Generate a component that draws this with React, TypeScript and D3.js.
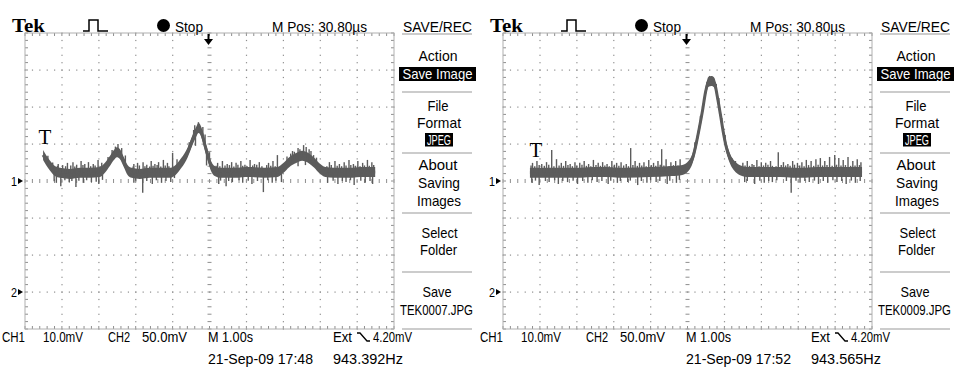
import React, { useEffect, useRef } from 'react';
import * as d3 from 'd3';

type Pt = [number, number];

// CH1 trace: [time in s from left graticule edge, mV above CH1 ground]
// M 1.00s/div, CH1 10.0mV/div
const trace07: Pt[] = [
  [0.49, 7.0], [0.57, 5.7], [0.68, 4.1], [0.81, 2.7], [0.95, 2.2], [1.22, 1.9], [1.49, 2.2],
  [1.76, 2.2], [2.03, 2.4], [2.16, 3.5], [2.3, 5.4], [2.41, 7.0], [2.49, 7.8], [2.57, 7.3],
  [2.68, 5.1], [2.78, 3.0], [2.89, 2.2], [3.11, 1.9], [3.38, 2.2], [3.65, 2.2], [3.92, 2.2],
  [4.08, 3.0], [4.24, 4.9], [4.41, 7.8], [4.54, 11.1], [4.65, 13.5], [4.7, 14.3], [4.78, 13.2],
  [4.86, 10.3], [4.95, 7.0], [5.03, 4.3], [5.14, 2.7], [5.32, 2.2], [5.68, 2.2], [6.08, 2.4],
  [6.49, 2.2], [6.84, 2.4], [7.0, 3.5], [7.16, 5.1], [7.35, 6.2], [7.51, 6.8], [7.68, 6.2],
  [7.84, 4.9], [7.97, 3.5], [8.14, 2.4], [8.38, 2.2], [8.78, 2.2], [9.19, 2.4], [9.49, 2.4],
];

// noise spikes: [time s, tip mV]
const spikesUp07: Pt[] = [
  [0.62, 6.8], [0.75, 5.0], [0.9, 4.6], [1.02, 4.3], [1.15, 4.9], [1.3, 5.1], [1.4, 4.4],
  [1.52, 5.4], [1.62, 4.6], [1.72, 5.1], [1.85, 4.6], [1.98, 5.7], [2.08, 4.9], [2.25, 6.5],
  [2.36, 8.4], [2.45, 9.3], [2.52, 10.0], [2.62, 8.9], [2.72, 6.9], [2.95, 4.6], [3.05, 4.9],
  [3.2, 5.1], [3.3, 4.4], [3.42, 5.4], [3.52, 4.6], [3.62, 5.1], [3.75, 5.7], [3.86, 4.9],
  [4.0, 7.6], [4.12, 5.9], [4.45, 10.5], [4.57, 13.8], [4.6, 15.1], [4.7, 15.9], [4.82, 14.6],
  [4.88, 12.6], [5.0, 7.8], [5.22, 4.9], [5.35, 5.4], [5.48, 4.6], [5.6, 5.1], [5.72, 4.9],
  [5.85, 5.4], [5.96, 4.4], [6.1, 5.7], [6.22, 4.6], [6.35, 5.1], [6.6, 4.9], [6.72, 5.4],
  [6.84, 7.0], [7.1, 6.6], [7.2, 7.4], [7.25, 8.1], [7.3, 7.9], [7.4, 8.9], [7.45, 8.6],
  [7.55, 9.7], [7.62, 9.2], [7.7, 8.6], [7.75, 8.1], [7.82, 7.0], [7.9, 6.3], [8.25, 5.1],
  [8.4, 5.4], [8.52, 4.6], [8.65, 5.1], [8.78, 5.7], [8.9, 4.6], [9.02, 5.4], [9.15, 4.9],
  [9.28, 5.7], [9.4, 5.1],
];
const spikesDown07: Pt[] = [
  [0.85, -0.5], [0.97, -1.4], [1.2, -0.3], [1.38, -1.6], [1.58, -0.5], [1.8, -0.3], [2.0, -0.8],
  [2.95, -0.5], [3.19, -3.2], [3.45, -0.8], [3.7, -0.5], [3.95, -0.3], [4.62, 9.5], [4.92, 4.2],
  [5.25, -0.8], [5.45, -1.4], [5.62, -0.3], [5.9, -0.5], [6.15, -0.8], [6.46, -3.0], [6.7, -0.5],
  [6.95, -0.3], [7.4, 4.0], [7.6, 4.3], [8.2, -0.5], [8.48, -0.8], [8.7, -0.3], [8.92, -1.1],
  [9.22, -0.5], [9.42, -0.8],
];
// short hairs along the baseline
const fuzz07: Pt[] = [
  [0.7, 4.3], [0.79, -0.1], [0.88, 4.1], [1.08, 0.2], [1.1, 4.0], [1.24, 4.2], [1.27, 0.0],
  [1.35, 3.9], [1.46, 0.1], [1.57, 4.3], [1.67, 0.2], [1.78, 4.0], [1.9, 4.2], [1.93, -0.2],
  [2.04, 4.0], [2.1, 0.3], [2.93, 3.9], [3.0, 0.1], [3.1, 4.2], [3.25, 4.0], [3.3, 0.0],
  [3.38, 3.9], [3.47, 4.1], [3.56, 0.2], [3.58, 4.3], [3.68, 3.9], [3.8, 4.2], [3.82, 0.0],
  [3.9, 4.0], [4.05, 0.8], [5.18, 4.1], [5.28, 4.0], [5.3, 0.1], [5.42, 4.2], [5.52, 0.0],
  [5.54, 4.3], [5.66, 3.9], [5.77, 4.4], [5.8, 0.2], [5.9, 4.1], [6.02, 4.0], [6.05, 0.1],
  [6.17, 4.2], [6.28, 4.4], [6.3, 0.0], [6.42, 4.0], [6.55, 4.3], [6.58, 0.2], [6.66, 4.1],
  [6.78, 4.0], [6.8, 0.1], [8.18, 4.0], [8.3, 4.3], [8.35, 0.1], [8.46, 4.1], [8.58, 4.0],
  [8.6, 0.0], [8.7, 4.2], [8.82, 0.2], [8.83, 4.3], [8.95, 4.1], [9.08, 4.0], [9.1, 0.1],
  [9.2, 4.2], [9.33, 4.1], [9.35, 0.0], [9.45, 4.3],
];

const trace09: Pt[] = [
  [0.73, 2.2], [1.27, 2.2], [1.95, 2.2], [2.62, 2.4], [3.3, 2.2], [3.97, 2.4], [4.57, 2.7],
  [4.86, 3.0], [5.03, 4.1], [5.14, 6.2], [5.24, 10.3], [5.32, 14.3], [5.41, 19.2], [5.49, 24.1],
  [5.57, 26.8], [5.65, 27.0], [5.73, 26.5], [5.81, 22.7], [5.89, 18.1], [5.97, 13.2], [6.05, 9.2],
  [6.16, 5.9], [6.27, 4.1], [6.41, 3.0], [6.68, 2.4], [7.35, 2.4], [8.03, 2.2], [8.7, 2.4],
  [9.24, 2.4], [9.73, 2.4],
];
const spikesUp09: Pt[] = [
  [0.8, 4.9], [0.92, 5.4], [1.05, 4.6], [1.18, 5.1], [1.32, 8.4], [1.45, 5.9], [1.58, 4.9],
  [1.7, 5.4], [1.82, 4.6], [1.95, 5.1], [2.08, 4.9], [2.2, 5.4], [2.32, 4.6], [2.45, 5.7],
  [2.58, 4.9], [2.7, 5.1], [2.82, 4.6], [2.95, 5.4], [3.08, 4.9], [3.2, 5.1], [3.34, 4.6],
  [3.46, 8.9], [3.58, 5.4], [3.7, 4.9], [3.82, 5.1], [3.95, 5.7], [4.08, 4.9], [4.2, 5.4],
  [4.3, 8.6], [4.42, 5.9], [4.55, 5.1], [4.68, 5.4], [4.8, 5.9], [5.2, 10.5], [5.35, 17.6],
  [5.45, 22.4], [5.53, 26.8], [5.6, 28.4], [5.68, 28.1], [5.78, 26.2], [5.85, 22.4],
  [5.93, 17.0], [6.02, 12.4], [6.1, 8.4], [6.2, 6.2], [6.3, 5.4],
  [6.5, 4.9], [6.62, 5.4], [6.75, 4.6], [6.88, 5.7], [7.0, 5.1], [7.12, 4.9], [7.25, 5.4],
  [7.46, 7.8], [7.6, 5.1], [7.72, 4.6], [7.85, 5.4], [7.98, 4.9], [8.1, 5.1], [8.22, 5.7],
  [8.35, 5.4], [8.48, 5.9], [8.6, 6.2], [8.72, 5.4], [8.85, 6.5], [8.99, 7.0], [9.1, 6.2],
  [9.22, 5.7], [9.35, 6.5], [9.48, 5.4], [9.6, 5.9], [9.7, 5.1],
];
const spikesDown09: Pt[] = [
  [0.78, -0.5], [0.98, -1.1], [1.25, -0.3], [1.5, -0.8], [1.75, -0.3], [2.02, -0.8], [2.3, -0.5],
  [2.55, -0.3], [2.85, -0.8], [3.1, -0.5], [3.38, -0.3], [3.65, -1.1], [3.9, -0.5], [4.15, -0.3],
  [4.45, -0.8], [4.7, -0.5], [6.55, -0.3], [6.82, -0.8], [7.08, -0.5], [7.3, -0.3], [7.81, -3.2],
  [8.05, -0.5], [8.3, -0.3], [8.55, -0.8], [8.8, -0.5], [9.05, -0.3], [9.3, -0.8], [9.55, -0.5],
];
const fuzz09: Pt[] = [
  [0.76, 4.2], [0.86, 4.0], [0.88, 0.1], [0.98, 4.3], [1.12, 4.1], [1.15, 0.0], [1.24, 4.4],
  [1.38, 4.0], [1.4, 0.2], [1.52, 4.2], [1.62, 0.0], [1.64, 4.1], [1.76, 4.3], [1.88, 4.0],
  [1.9, 0.1], [2.0, 4.2], [2.14, 4.4], [2.16, 0.0], [2.26, 4.1], [2.38, 4.0], [2.42, 0.2],
  [2.52, 4.3], [2.64, 4.1], [2.68, 0.0], [2.76, 4.2], [2.88, 4.0], [2.92, 0.1], [3.02, 4.4],
  [3.14, 4.1], [3.18, 0.0], [3.27, 4.2], [3.4, 4.0], [3.45, 0.1], [3.52, 4.3], [3.64, 4.1],
  [3.75, 0.0], [3.76, 4.2], [3.88, 4.0], [4.0, 0.2], [4.02, 4.3], [4.14, 4.1], [4.25, 0.0],
  [4.26, 4.4], [4.36, 4.2], [4.5, 4.0], [4.52, 0.1], [4.62, 4.3], [4.74, 4.2], [4.78, 0.3],
  [6.46, 4.0], [6.56, 4.2], [6.62, 0.0], [6.68, 4.1], [6.8, 4.3], [6.94, 4.0], [6.96, 0.1],
  [7.06, 4.2], [7.18, 4.4], [7.2, 0.0], [7.3, 4.1], [7.4, 4.0], [7.42, 0.2], [7.54, 4.3],
  [7.66, 4.2], [7.68, 0.0], [7.78, 4.1], [7.9, 4.4], [7.94, 0.1], [8.04, 4.2], [8.16, 4.0],
  [8.18, 0.0], [8.28, 4.3], [8.42, 4.1], [8.44, 0.1], [8.54, 4.4], [8.66, 4.2], [8.68, 0.0],
  [8.78, 4.3], [8.92, 4.1], [8.94, 0.2], [9.04, 4.4], [9.16, 4.2], [9.18, 0.0], [9.28, 4.3],
  [9.42, 4.1], [9.44, 0.1], [9.54, 4.2], [9.66, 4.3], [9.68, 0.0],
];

const screens = [
  {
    file: 'TEK0007.JPG', date: '21-Sep-09 17:48', freq: '943.392Hz',
    trace: trace07, up: spikesUp07, down: spikesDown07, fuzz: fuzz07, trig: [0.54, 11.9] as Pt,
  },
  {
    file: 'TEK0009.JPG', date: '21-Sep-09 17:52', freq: '943.565Hz',
    trace: trace09, up: spikesUp09, down: spikesDown09, fuzz: fuzz09, trig: [0.89, 8.4] as Pt,
  },
];

const traceColor = '#5c5c5c';
const gridColor = '#8e8e8e';
const sans = 'Liberation Sans, Arial, sans-serif';
const serif = 'Liberation Serif, Times New Roman, serif';

type G = d3.Selection<SVGGElement, unknown, null, undefined>;

function label(
  g: G, text: string, x: number, y: number, w: number,
  opts: { anchor?: string; size?: number; fill?: string } = {}
) {
  return g
    .append('text')
    .attr('x', x)
    .attr('y', y)
    .attr('textLength', w)
    .attr('lengthAdjust', 'spacingAndGlyphs')
    .attr('text-anchor', opts.anchor ?? 'start')
    .attr('font-size', opts.size ?? 15)
    .attr('fill', opts.fill ?? '#000')
    .text(text);
}

function drawScreen(
  svg: d3.Selection<SVGSVGElement, unknown, null, undefined>,
  s: (typeof screens)[number],
  ox: number
) {
  const g = svg.append('g').attr('transform', `translate(${ox},0)`);

  const x = d3.scaleLinear().domain([0, 10]).range([25, 394]);
  const y = d3.scaleLinear().domain([-40, 40]).range([329, 33]);

  const minorT = d3.range(0, 51).map((i) => i / 5);
  const minorV = d3.range(0, 41).map((i) => -40 + i * 2);

  // graticule dots
  const grid = g.append('g').attr('fill', gridColor);
  grid
    .selectAll('rect.vd')
    .data(d3.cross([1, 2, 3, 4, 6, 7, 8, 9], minorV))
    .join('rect')
    .attr('x', (d) => x(d[0]) - 0.5)
    .attr('y', (d) => y(d[1]) - 0.5)
    .attr('width', 1.2)
    .attr('height', 1.2);
  grid
    .selectAll('rect.hd')
    .data(d3.cross(minorT, [-30, -20, -10, 10, 20, 30]))
    .join('rect')
    .attr('x', (d) => x(d[0]) - 0.5)
    .attr('y', (d) => y(d[1]) - 0.5)
    .attr('width', 1.2)
    .attr('height', 1.2);

  // center cross ticks and border ticks
  const ticks = g.append('g').attr('stroke', gridColor).attr('stroke-width', 1);
  ticks
    .selectAll('line.cv')
    .data(minorV)
    .join('line')
    .attr('x1', x(5) - 2)
    .attr('x2', x(5) + 2)
    .attr('y1', (d) => y(d))
    .attr('y2', (d) => y(d));
  ticks
    .selectAll('line.ch')
    .data(minorT)
    .join('line')
    .attr('x1', (d) => x(d))
    .attr('x2', (d) => x(d))
    .attr('y1', y(0) - 2)
    .attr('y2', y(0) + 2);
  for (const [yy, dir] of [[y(40), 1], [y(-40), -1]]) {
    ticks
      .append('g')
      .selectAll('line')
      .data(minorT)
      .join('line')
      .attr('x1', (d) => x(d))
      .attr('x2', (d) => x(d))
      .attr('y1', yy)
      .attr('y2', yy + dir * 3);
  }
  for (const [xx, dir] of [[x(0), 1], [x(10), -1]]) {
    ticks
      .append('g')
      .selectAll('line')
      .data(minorV)
      .join('line')
      .attr('x1', xx)
      .attr('x2', xx + dir * 3)
      .attr('y1', (d) => y(d))
      .attr('y2', (d) => y(d));
  }
  g.append('rect')
    .attr('x', x(0))
    .attr('y', y(40))
    .attr('width', x(10) - x(0))
    .attr('height', y(-40) - y(40))
    .attr('fill', 'none')
    .attr('stroke', '#b0b0b0');

  // trace
  const area = d3
    .area<Pt>()
    .x((d) => x(d[0]))
    .y0((d) => y(d[1]) + 5)
    .y1((d) => y(d[1]) - 5)
    .curve(d3.curveMonotoneX);
  const line = d3
    .line<Pt>()
    .x((d) => x(d[0]))
    .y((d) => y(d[1]))
    .curve(d3.curveMonotoneX);
  g.append('path').datum(s.trace).attr('d', area).attr('fill', traceColor);
  g.append('path')
    .datum(s.trace)
    .attr('d', line)
    .attr('fill', 'none')
    .attr('stroke', traceColor)
    .attr('stroke-width', 3);

  const bis = d3.bisector((d: Pt) => d[0]).left;
  const baseAt = (t: number) => {
    const i = Math.min(Math.max(bis(s.trace, t), 1), s.trace.length - 1);
    const a = s.trace[i - 1];
    const b = s.trace[i];
    return a[1] + ((b[1] - a[1]) * (t - a[0])) / (b[0] - a[0]);
  };
  g.append('g')
    .attr('stroke', traceColor)
    .attr('stroke-width', 1.4)
    .selectAll('line')
    .data([...s.up, ...s.down, ...s.fuzz])
    .join('line')
    .attr('x1', (d) => x(d[0]))
    .attr('x2', (d) => x(d[0]))
    .attr('y1', (d) => y(baseAt(d[0])))
    .attr('y2', (d) => y(d[1]));

  // trigger level marker
  g.append('text')
    .attr('x', x(s.trig[0]))
    .attr('y', y(s.trig[1]) + 7)
    .attr('text-anchor', 'middle')
    .attr('font-family', serif)
    .attr('font-size', 21)
    .text('T');

  // trigger position arrow
  g.append('line')
    .attr('x1', x(5) - 1)
    .attr('x2', x(5) - 1)
    .attr('y1', 34)
    .attr('y2', 40)
    .attr('stroke', '#000')
    .attr('stroke-width', 2);
  g.append('path')
    .attr('d', `M${x(5) - 5.5},39 L${x(5) + 3.5},39 L${x(5) - 1},45 Z`)
    .attr('fill', '#000');

  // channel ground markers
  for (const [name, v] of [['1', 0], ['2', -30]] as [string, number][]) {
    label(g, name, 11, y(v) + 5, 6, { size: 13 });
    g.append('path')
      .attr('d', `M18,${y(v) - 3} L23,${y(v)} L18,${y(v) + 3} Z`)
      .attr('fill', '#000');
  }

  // header
  g.append('text')
    .attr('x', 12)
    .attr('y', 32)
    .attr('font-family', serif)
    .attr('font-weight', 'bold')
    .attr('font-size', 19)
    .attr('textLength', 33)
    .attr('lengthAdjust', 'spacingAndGlyphs')
    .text('Tek');
  g.append('path')
    .attr('d', 'M83,31 H89 V20 H98 V31 H108')
    .attr('fill', 'none')
    .attr('stroke', '#000')
    .attr('stroke-width', 1.5);
  g.append('circle').attr('cx', 163.5).attr('cy', 25.5).attr('r', 6.5).attr('fill', '#000');
  label(g, 'Stop', 175, 31.5, 28);
  label(g, 'M Pos: 30.80\u00b5s', 272, 31.5, 95);
  label(g, 'SAVE/REC', 403, 31.5, 69);

  // side menu
  const menu = g.append('g');
  menu
    .selectAll('line')
    .data([34, 92, 153, 213, 272, 329])
    .join('line')
    .attr('x1', 402)
    .attr('x2', 472)
    .attr('y1', (d) => d)
    .attr('y2', (d) => d)
    .attr('stroke', '#9a9a9a')
    .attr('stroke-width', 1.2);
  menu.append('rect').attr('x', 399).attr('y', 67).attr('width', 77).attr('height', 14).attr('fill', '#000');
  menu.append('rect').attr('x', 425).attr('y', 133).attr('width', 28).attr('height', 13.5).attr('fill', '#000');
  label(menu, 'Action', 438, 61, 39, { anchor: 'middle' });
  label(menu, 'Save Image', 437.5, 78.5, 70, { anchor: 'middle', fill: '#fff' });
  label(menu, 'File', 438, 111, 21, { anchor: 'middle' });
  label(menu, 'Format', 439, 128, 44, { anchor: 'middle' });
  label(menu, 'JPEG', 439, 144.5, 24, { anchor: 'middle', fill: '#fff' });
  label(menu, 'About', 438, 170, 39, { anchor: 'middle' });
  label(menu, 'Saving', 439, 187.5, 42, { anchor: 'middle' });
  label(menu, 'Images', 439, 206, 44, { anchor: 'middle' });
  label(menu, 'Select', 439.5, 238, 36, { anchor: 'middle' });
  label(menu, 'Folder', 438.5, 255, 37, { anchor: 'middle' });
  label(menu, 'Save', 437, 297, 29, { anchor: 'middle' });
  label(menu, s.file, 436.5, 314.5, 73, { anchor: 'middle' });

  // bottom readout
  label(g, 'CH1', 2, 342, 23, { size: 14 });
  label(g, '10.0mV', 43, 342, 40, { size: 14 });
  label(g, 'CH2', 108, 342, 22, { size: 14 });
  label(g, '50.0mV', 142, 342, 45, { size: 14 });
  label(g, 'M 1.00s', 208, 342, 45, { size: 14 });
  label(g, 'Ext', 333, 342, 19, { size: 14 });
  g.append('path')
    .attr('d', 'M357,333 H360 L367,341 H370')
    .attr('fill', 'none')
    .attr('stroke', '#000')
    .attr('stroke-width', 1.3);
  label(g, '4.20mV', 373, 342, 39, { size: 14 });
  label(g, s.date, 208, 363.5, 105, { size: 14 });
  label(g, s.freq, 333, 363.5, 70, { size: 14 });
}

export default function App() {
  const ref = useRef<SVGSVGElement>(null);

  useEffect(() => {
    document.body.style.margin = '0';
    const svg = d3.select(ref.current as SVGSVGElement);
    svg.selectAll('*').remove();
    svg.append('rect').attr('width', 957).attr('height', 367).attr('fill', '#fff');
    screens.forEach((s, i) => drawScreen(svg, s, i * 478));
  }, []);

  return (
    <svg
      ref={ref}
      width={957}
      height={367}
      style={{ position: 'absolute', left: 0, top: 0, fontFamily: sans }}
    />
  );
}
